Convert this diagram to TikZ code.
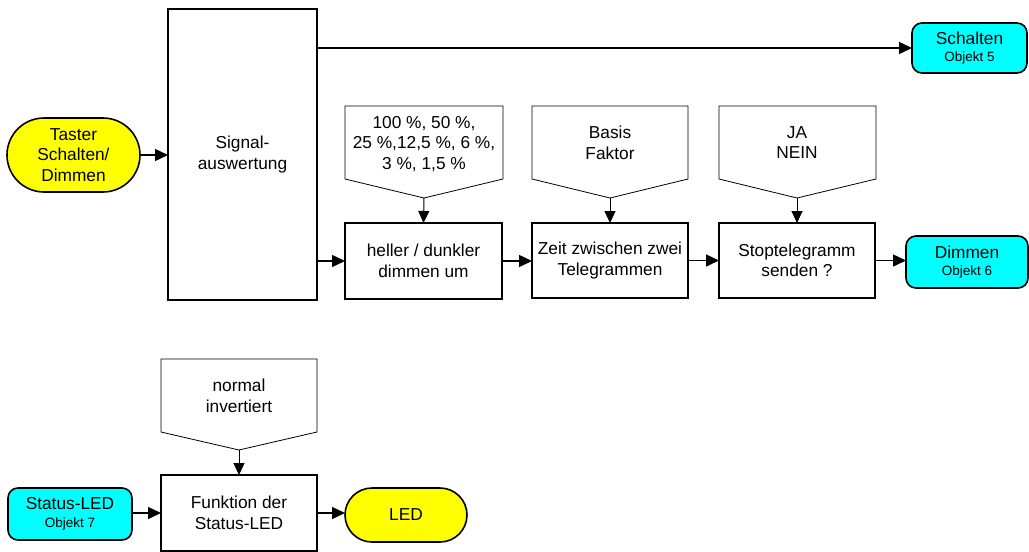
\documentclass[tikz,border=0pt]{standalone}
\usepackage{fontspec}
\setmainfont{Liberation Sans}
\usetikzlibrary{arrows.meta,shapes.misc}
\definecolor{termyellow}{RGB}{255,255,0}
\definecolor{objcyan}{RGB}{0,255,255}
\newcommand{\objfont}{\fontsize{13.5}{16}\selectfont}
\begin{document}
\begin{tikzpicture}[x=1pt,y=-1pt,
  every node/.style={font=\fontsize{17.3}{20.5}\selectfont, align=center, inner sep=0pt, outer sep=0pt},
  blk/.style={draw, line width=1.6pt, fill=white},
  term/.style={draw, line width=1.6pt, fill=termyellow, rounded rectangle},
  obj/.style={draw, line width=1.6pt, fill=objcyan, rounded corners=10pt},
  pent/.style={draw, line width=0.8pt},
  arr/.style={line width=1.5pt, -{Triangle[length=13pt,width=12pt]}},
  parr/.style={line width=1pt, -{Triangle[length=12pt,width=11pt]}}
]
\useasboundingbox (0,0) rectangle (1029,552);

% main blocks
\node[blk, minimum width=149pt, minimum height=291pt] (sig) at (242.5,154.5) {Signal-\\auswertung};
\node[term, minimum width=133pt, minimum height=74pt] (tast) at (73.5,155) {Taster\\Schalten/\\Dimmen};
\node[obj, minimum width=115pt, minimum height=50pt] (sch) at (969.5,48) {Schalten\\[-3pt]{\objfont Objekt 5}};
\node[obj, minimum width=122pt, minimum height=52pt] (dim) at (967,262) {Dimmen\\[-3pt]{\objfont Objekt 6}};

\node[blk, minimum width=157pt, minimum height=76pt] (b1) at (423.5,261) {heller / dunkler\\dimmen um};
\node[blk, minimum width=156pt, minimum height=75pt] (b2) at (610,260.5) {Zeit zwischen zwei\\Telegrammen};
\node[blk, minimum width=156pt, minimum height=75pt] (b3) at (797,260.5) {Stoptelegramm\\senden ?};

% parameter pentagons
\draw[pent] (345,106) -- (503,106) -- (503,179) -- (424,198) -- (345,179) -- cycle;
\node (p1) at (424,144) {100 \%, 50 \%,\\25 \%,12,5 \%, 6 \%,\\3 \%, 1,5 \%};
\coordinate (p1t) at (424,198);
\draw[pent] (532,106) -- (688,106) -- (688,179) -- (610,198) -- (532,179) -- cycle;
\node (p2) at (610,143) {Basis\\Faktor};
\coordinate (p2t) at (610,198);
\draw[pent] (719,106) -- (876,106) -- (876,179) -- (797,198) -- (719,179) -- cycle;
\node (p3) at (797,142.5) {JA\\NEIN};
\coordinate (p3t) at (797,198);

% connectors upper part
\draw[arr] (tast.east) -- (tast.east -| sig.west);
\draw[arr] (sig.east |- sch.west) -- (sch.west);
\draw[arr] (sig.east |- b1.west) -- (b1.west);
\draw[arr] (b1.east) -- (b1.east -| b2.west);
\draw[arr] (b2.east) -- (b2.east -| b3.west);
\draw[arr] (b3.east) -- (b3.east -| dim.west);
\draw[parr] (p1t) -- (b1.north);
\draw[parr] (p2t) -- (b2.north);
\draw[parr] (p3t) -- (b3.north);

% lower part
\node[blk, minimum width=156pt, minimum height=76pt] (fled) at (239,513) {Funktion der\\Status-LED};
\node[obj, minimum width=124pt, minimum height=52pt] (sled) at (70,514) {Status-LED\\[-3pt]{\objfont Objekt 7}};
\node[term, minimum width=122pt, minimum height=54pt] (led) at (406,515) {LED};
\draw[pent] (161,359) -- (317,359) -- (317,432) -- (239,450) -- (161,432) -- cycle;
\node (p4) at (239,396) {normal\\invertiert};
\coordinate (p4t) at (239,450);
\draw[parr] (p4t) -- (fled.north);
\draw[arr] (sled.east |- fled.west) -- (fled.west);
\draw[arr] (fled.east) -- (fled.east -| led.west);
\end{tikzpicture}
\end{document}
